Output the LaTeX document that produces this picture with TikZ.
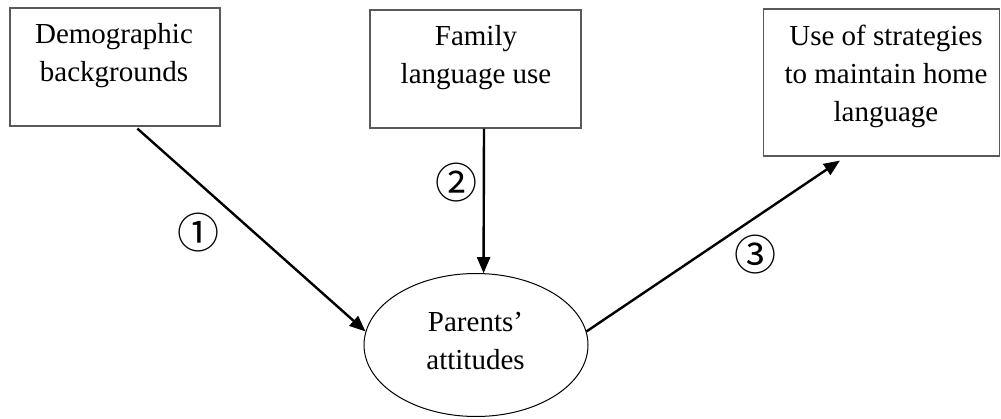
\documentclass[tikz,border=0pt]{standalone}
\usepackage{fontspec}
\setmainfont{Liberation Serif}
\newfontfamily\circfont{Noto Sans CJK SC}
\usetikzlibrary{shapes.geometric,arrows.meta,calc}
\begin{document}
\begin{tikzpicture}[x=1pt,y=-1pt,
  box/.style={draw=black!65,line width=1.2pt,inner sep=0pt,rectangle},
  txt/.style={font=\fontsize{29}{38}\selectfont,align=center,inner sep=0pt,anchor=base},
  num/.style={font=\circfont\fontsize{42}{42}\selectfont,inner sep=0pt},
  arr/.style={-{Triangle[length=16pt,width=13pt]},line width=2.4pt}]
\useasboundingbox (0,0) rectangle (1001,419);
\node[box,minimum width=210pt,minimum height=118pt] (b1) at (115,67) {};
\node[box,minimum width=211pt,minimum height=118pt] (b2) at (475.5,69) {};
\node[box,minimum width=236pt,minimum height=147pt] (b3) at (881.5,82.5) {};
\node[draw,ellipse,line width=1pt,inner sep=0pt,minimum width=224pt,minimum height=143pt] (pa) at (476,345) {};
\node[txt] (t1) at (114,82) {Demographic\\backgrounds};
\node[txt] (t2) at (476,84) {Family\\language use};
\node[txt] (t3) at (886,122) {Use of strategies\\to maintain home\\language};
\node[txt] (t4) at (475.5,370) {Parents'\\attitudes};
\draw[arr] ($(b1.south west)+(128,2)$) -- (pa.173);
\draw[arr] ($(b2.south)+(8.5,0)$) -- (pa.84);
\draw[arr] (pa.7) -- ($(b3.south west)+(77,4)$);
\node[num] (n1) at (198,233) {①};
\node[num] (n2) at (456,183) {②};
\node[num] (n3) at (755,255) {③};
\end{tikzpicture}
\end{document}
